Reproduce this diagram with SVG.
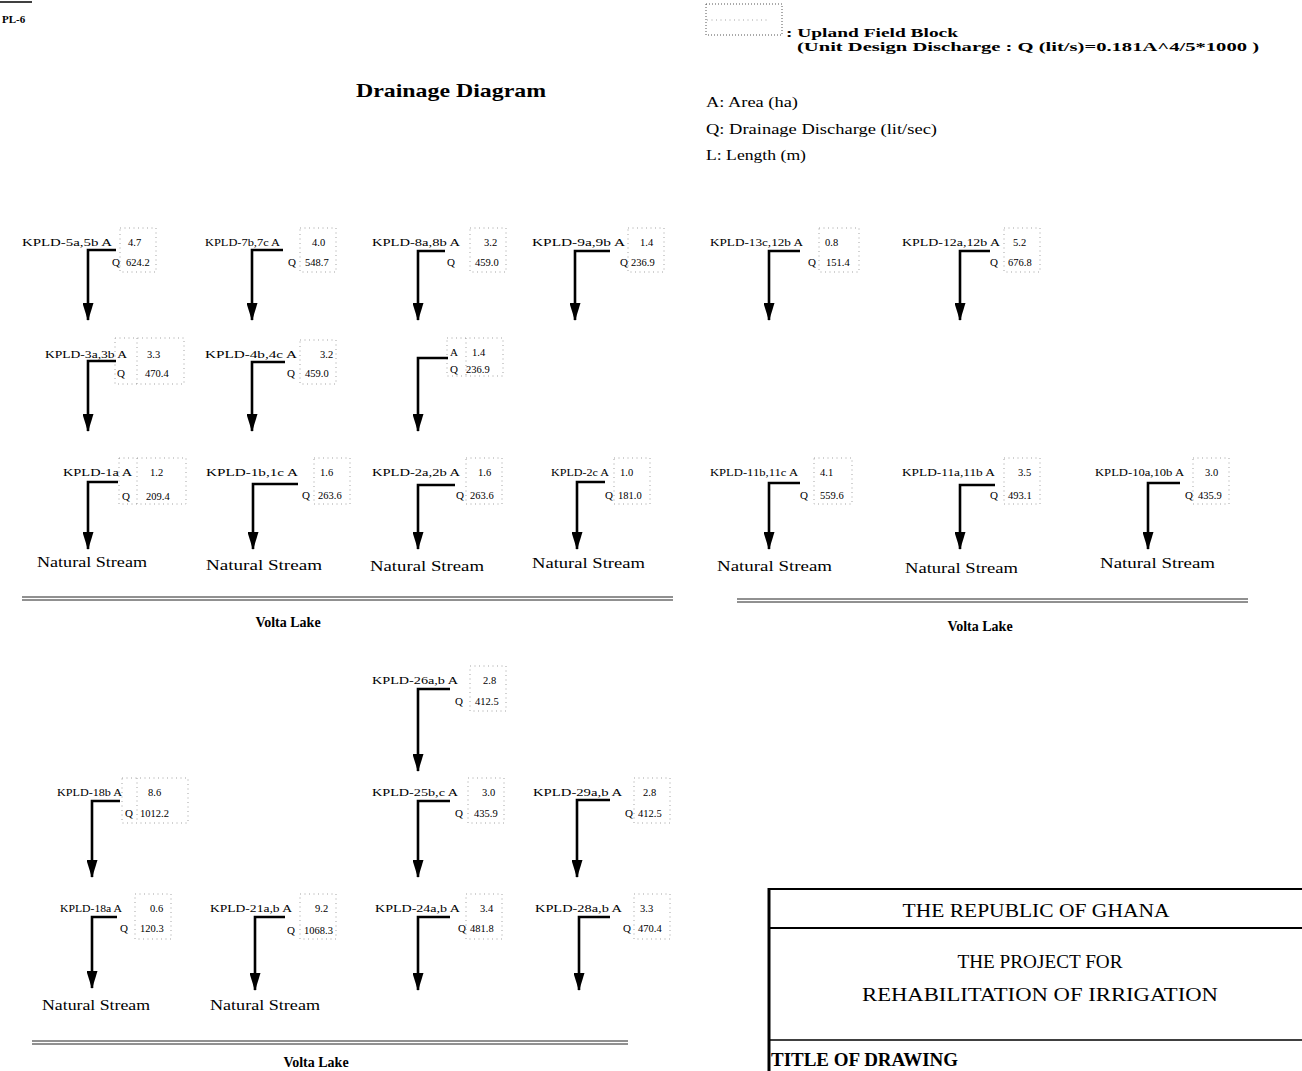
<svg xmlns="http://www.w3.org/2000/svg" width="1302" height="1071" viewBox="0 0 1302 1071">
<defs>
<style>
text{font-family:"Liberation Serif","Times New Roman",serif;fill:#000}
.lbl{font-size:11px}
.val{font-size:10.5px}
.ns{font-size:14px}
.vl{font-size:14px;font-weight:bold}
.leg{font-size:15px}
.tb{font-size:18px}
.conn{fill:none;stroke:#000;stroke-width:2.6;stroke-linejoin:miter}
.box{fill:none;stroke:#999;stroke-width:0.9;stroke-dasharray:1 3.5}
.lake{stroke:#222;stroke-width:1}
</style>
<marker id="ah" viewBox="0 0 18 11" refX="17" refY="5.5" markerWidth="18" markerHeight="11" markerUnits="userSpaceOnUse" orient="auto">
<path d="M0,0 L18,5.5 L0,11 z" fill="#000"/>
</marker>
</defs>
<rect width="1302" height="1071" fill="#fff"/>

<g id="sheet-id">
<line x1="0" y1="2" x2="32" y2="2" stroke="#000" stroke-width="1.5"/>
<text x="2" y="23" style="font-size:11px;font-weight:bold">PL-6</text>
</g>

<g id="title">
<text x="356" y="97" style="font-size:19px;font-weight:bold" textLength="190" lengthAdjust="spacingAndGlyphs">Drainage Diagram</text>
</g>

<g id="legend">
<rect x="706" y="4" width="76" height="31" fill="none" stroke="#555" stroke-width="1" stroke-dasharray="1 2"/>
<line x1="707" y1="20" x2="770" y2="20" class="box"/>
<text x="786" y="37" style="font-size:13px;font-weight:bold" textLength="172" lengthAdjust="spacingAndGlyphs">: Upland Field Block</text>
<text x="797" y="51" style="font-size:13px;font-weight:bold" textLength="462" lengthAdjust="spacingAndGlyphs">(Unit Design Discharge : Q (lit/s)=0.181A^4/5*1000 )</text>
<text x="706" y="107" class="leg" textLength="92" lengthAdjust="spacingAndGlyphs">A: Area (ha)</text>
<text x="706" y="134" class="leg" textLength="231" lengthAdjust="spacingAndGlyphs">Q: Drainage Discharge (lit/sec)</text>
<text x="706" y="160" class="leg" textLength="100" lengthAdjust="spacingAndGlyphs">L: Length (m)</text>
</g>

<!-- Row 1 -->
<g id="n-5a5b"><text class="lbl" x="22" y="246" textLength="90" lengthAdjust="spacingAndGlyphs">KPLD-5a,5b A</text><text class="val" x="128" y="246">4.7</text><text class="lbl" x="112" y="266">Q</text><text class="val" x="126" y="266">624.2</text><rect class="box" x="120" y="228" width="36" height="44"/></g>
<g id="n-7b7c"><text class="lbl" x="205" y="246" textLength="75" lengthAdjust="spacingAndGlyphs">KPLD-7b,7c A</text><text class="val" x="312" y="246">4.0</text><text class="lbl" x="288" y="266">Q</text><text class="val" x="305" y="266">548.7</text><rect class="box" x="300" y="228" width="36" height="44"/></g>
<g id="n-8a8b"><text class="lbl" x="372" y="246" textLength="88" lengthAdjust="spacingAndGlyphs">KPLD-8a,8b A</text><text class="val" x="484" y="246">3.2</text><text class="lbl" x="447" y="266">Q</text><text class="val" x="475" y="266">459.0</text><rect class="box" x="470" y="228" width="36" height="44"/></g>
<g id="n-9a9b"><text class="lbl" x="532" y="246" textLength="93" lengthAdjust="spacingAndGlyphs">KPLD-9a,9b A</text><text class="val" x="640" y="246">1.4</text><text class="lbl" x="620" y="266">Q</text><text class="val" x="631" y="266">236.9</text><rect class="box" x="628" y="228" width="36" height="44"/></g>
<g id="n-13c12b"><text class="lbl" x="710" y="246" textLength="93" lengthAdjust="spacingAndGlyphs">KPLD-13c,12b A</text><text class="val" x="825" y="246">0.8</text><text class="lbl" x="808" y="266">Q</text><text class="val" x="826" y="266">151.4</text><rect class="box" x="819" y="228" width="40" height="44"/></g>
<g id="n-12a12b"><text class="lbl" x="902" y="246" textLength="98" lengthAdjust="spacingAndGlyphs">KPLD-12a,12b A</text><text class="val" x="1013" y="246">5.2</text><text class="lbl" x="990" y="266">Q</text><text class="val" x="1008" y="266">676.8</text><rect class="box" x="1004" y="228" width="36" height="44"/></g>

<!-- Row 2 -->
<g id="n-3a3b"><text class="lbl" x="45" y="358" textLength="82" lengthAdjust="spacingAndGlyphs">KPLD-3a,3b A</text><text class="val" x="147" y="358">3.3</text><text class="lbl" x="117" y="377">Q</text><text class="val" x="145" y="377">470.4</text><rect class="box" x="115" y="338" width="69" height="46"/><line class="box" x1="137" y1="338" x2="137" y2="384"/></g>
<g id="n-4b4c"><text class="lbl" x="205" y="358" textLength="92" lengthAdjust="spacingAndGlyphs">KPLD-4b,4c A</text><text class="val" x="320" y="358">3.2</text><text class="lbl" x="287" y="377">Q</text><text class="val" x="305" y="377">459.0</text><rect class="box" x="300" y="340" width="36" height="44"/></g>
<g id="n-unl"><text class="lbl" x="450" y="356">A</text><text class="val" x="472" y="356">1.4</text><text class="lbl" x="450" y="373">Q</text><text class="val" x="466" y="373">236.9</text><rect class="box" x="447" y="338" width="56" height="38"/><line class="box" x1="466" y1="338" x2="466" y2="376"/></g>

<!-- Row 3 -->
<g id="n-1a"><text class="lbl" x="63" y="476" textLength="69" lengthAdjust="spacingAndGlyphs">KPLD-1a A</text><text class="val" x="150" y="476">1.2</text><text class="lbl" x="122" y="500">Q</text><text class="val" x="146" y="500">209.4</text><rect class="box" x="119" y="458" width="67" height="46"/><line class="box" x1="137" y1="458" x2="137" y2="504"/><text class="ns" x="37" y="567" textLength="110" lengthAdjust="spacingAndGlyphs">Natural Stream</text></g>
<g id="n-1b1c"><text class="lbl" x="206" y="476" textLength="92" lengthAdjust="spacingAndGlyphs">KPLD-1b,1c A</text><text class="val" x="320" y="476">1.6</text><text class="lbl" x="302" y="499">Q</text><text class="val" x="318" y="499">263.6</text><rect class="box" x="314" y="458" width="36" height="46"/><text class="ns" x="206" y="570" textLength="116" lengthAdjust="spacingAndGlyphs">Natural Stream</text></g>
<g id="n-2a2b"><text class="lbl" x="372" y="476" textLength="88" lengthAdjust="spacingAndGlyphs">KPLD-2a,2b A</text><text class="val" x="478" y="476">1.6</text><text class="lbl" x="456" y="499">Q</text><text class="val" x="470" y="499">263.6</text><rect class="box" x="466" y="458" width="36" height="46"/><text class="ns" x="370" y="571" textLength="114" lengthAdjust="spacingAndGlyphs">Natural Stream</text></g>
<g id="n-2c"><text class="lbl" x="551" y="476" textLength="58" lengthAdjust="spacingAndGlyphs">KPLD-2c A</text><text class="val" x="620" y="476">1.0</text><text class="lbl" x="605" y="499">Q</text><text class="val" x="618" y="499">181.0</text><rect class="box" x="614" y="458" width="36" height="46"/><text class="ns" x="532" y="568" textLength="113" lengthAdjust="spacingAndGlyphs">Natural Stream</text></g>
<g id="n-11b11c"><text class="lbl" x="710" y="476" textLength="88" lengthAdjust="spacingAndGlyphs">KPLD-11b,11c A</text><text class="val" x="820" y="476">4.1</text><text class="lbl" x="800" y="499">Q</text><text class="val" x="820" y="499">559.6</text><rect class="box" x="814" y="458" width="38" height="46"/><text class="ns" x="717" y="571" textLength="115" lengthAdjust="spacingAndGlyphs">Natural Stream</text></g>
<g id="n-11a11b"><text class="lbl" x="902" y="476" textLength="93" lengthAdjust="spacingAndGlyphs">KPLD-11a,11b A</text><text class="val" x="1018" y="476">3.5</text><text class="lbl" x="990" y="499">Q</text><text class="val" x="1008" y="499">493.1</text><rect class="box" x="1004" y="458" width="36" height="46"/><text class="ns" x="905" y="573" textLength="113" lengthAdjust="spacingAndGlyphs">Natural Stream</text></g>
<g id="n-10a10b"><text class="lbl" x="1095" y="476" textLength="89" lengthAdjust="spacingAndGlyphs">KPLD-10a,10b A</text><text class="val" x="1205" y="476">3.0</text><text class="lbl" x="1185" y="499">Q</text><text class="val" x="1198" y="499">435.9</text><rect class="box" x="1193" y="458" width="36" height="46"/><text class="ns" x="1100" y="568" textLength="115" lengthAdjust="spacingAndGlyphs">Natural Stream</text></g>

<!-- Bottom section -->
<g id="n-26ab"><text class="lbl" x="372" y="684" textLength="86" lengthAdjust="spacingAndGlyphs">KPLD-26a,b A</text><text class="val" x="483" y="684">2.8</text><text class="lbl" x="455" y="705">Q</text><text class="val" x="475" y="705">412.5</text><rect class="box" x="470" y="666" width="36" height="45"/></g>
<g id="n-18b"><text class="lbl" x="57" y="796" textLength="65" lengthAdjust="spacingAndGlyphs">KPLD-18b A</text><text class="val" x="148" y="796">8.6</text><text class="lbl" x="125" y="817">Q</text><text class="val" x="140" y="817">1012.2</text><rect class="box" x="122" y="778" width="66" height="45"/><line class="box" x1="137" y1="778" x2="137" y2="823"/></g>
<g id="n-25bc"><text class="lbl" x="372" y="796" textLength="86" lengthAdjust="spacingAndGlyphs">KPLD-25b,c A</text><text class="val" x="482" y="796">3.0</text><text class="lbl" x="455" y="817">Q</text><text class="val" x="474" y="817">435.9</text><rect class="box" x="468" y="778" width="36" height="45"/></g>
<g id="n-29ab"><text class="lbl" x="533" y="796" textLength="89" lengthAdjust="spacingAndGlyphs">KPLD-29a,b A</text><text class="val" x="643" y="796">2.8</text><text class="lbl" x="625" y="817">Q</text><text class="val" x="638" y="817">412.5</text><rect class="box" x="634" y="778" width="36" height="45"/></g>
<g id="n-18a"><text class="lbl" x="60" y="912" textLength="62" lengthAdjust="spacingAndGlyphs">KPLD-18a A</text><text class="val" x="150" y="912">0.6</text><text class="lbl" x="120" y="932">Q</text><text class="val" x="140" y="932">120.3</text><rect class="box" x="135" y="894" width="36" height="45"/><text class="ns" x="42" y="1010" textLength="108" lengthAdjust="spacingAndGlyphs">Natural Stream</text></g>
<g id="n-21ab"><text class="lbl" x="210" y="912" textLength="82" lengthAdjust="spacingAndGlyphs">KPLD-21a,b A</text><text class="val" x="315" y="912">9.2</text><text class="lbl" x="287" y="934">Q</text><text class="val" x="304" y="934">1068.3</text><rect class="box" x="300" y="894" width="36" height="45"/><text class="ns" x="210" y="1010" textLength="110" lengthAdjust="spacingAndGlyphs">Natural Stream</text></g>
<g id="n-24ab"><text class="lbl" x="375" y="912" textLength="85" lengthAdjust="spacingAndGlyphs">KPLD-24a,b A</text><text class="val" x="480" y="912">3.4</text><text class="lbl" x="458" y="932">Q</text><text class="val" x="470" y="932">481.8</text><rect class="box" x="466" y="894" width="36" height="45"/></g>
<g id="n-28ab"><text class="lbl" x="535" y="912" textLength="87" lengthAdjust="spacingAndGlyphs">KPLD-28a,b A</text><text class="val" x="640" y="912">3.3</text><text class="lbl" x="623" y="932">Q</text><text class="val" x="638" y="932">470.4</text><rect class="box" x="634" y="894" width="36" height="45"/></g>

<g id="connectors">
<path class="conn" d="M116,250 H88 V320" marker-end="url(#ah)"/>
<path class="conn" d="M283,250 H252 V320" marker-end="url(#ah)"/>
<path class="conn" d="M445,251 H418 V320" marker-end="url(#ah)"/>
<path class="conn" d="M610,251 H575 V320" marker-end="url(#ah)"/>
<path class="conn" d="M800,251 H769 V320" marker-end="url(#ah)"/>
<path class="conn" d="M990,251 H960 V320" marker-end="url(#ah)"/>

<path class="conn" d="M116,361 H88 V431" marker-end="url(#ah)"/>
<path class="conn" d="M285,362 H252 V431" marker-end="url(#ah)"/>
<path class="conn" d="M448,358 H418 V431" marker-end="url(#ah)"/>

<path class="conn" d="M118,482 H88 V549" marker-end="url(#ah)"/>
<path class="conn" d="M298,484 H253 V549" marker-end="url(#ah)"/>
<path class="conn" d="M455,485 H418 V549" marker-end="url(#ah)"/>
<path class="conn" d="M605,482 H577 V549" marker-end="url(#ah)"/>
<path class="conn" d="M800,483 H769 V549" marker-end="url(#ah)"/>
<path class="conn" d="M995,485 H960 V549" marker-end="url(#ah)"/>
<path class="conn" d="M1180,483 H1148 V549" marker-end="url(#ah)"/>

<path class="conn" d="M450,689 H418 V771" marker-end="url(#ah)"/>
<path class="conn" d="M120,801 H92 V877" marker-end="url(#ah)"/>
<path class="conn" d="M450,801 H418 V877" marker-end="url(#ah)"/>
<path class="conn" d="M610,800 H577 V877" marker-end="url(#ah)"/>
<path class="conn" d="M117,917 H92 V988" marker-end="url(#ah)"/>
<path class="conn" d="M285,917 H255 V990" marker-end="url(#ah)"/>
<path class="conn" d="M450,917 H418 V990" marker-end="url(#ah)"/>
<path class="conn" d="M610,917 H579 V990" marker-end="url(#ah)"/>
</g>

<g id="volta-lake-1">
<line class="lake" x1="22" y1="597" x2="673" y2="597"/>
<line class="lake" x1="22" y1="600" x2="673" y2="600"/>
<text class="vl" x="288" y="627" text-anchor="middle">Volta Lake</text>
</g>
<g id="volta-lake-2">
<line class="lake" x1="737" y1="599" x2="1248" y2="599"/>
<line class="lake" x1="737" y1="602" x2="1248" y2="602"/>
<text class="vl" x="980" y="631" text-anchor="middle">Volta Lake</text>
</g>
<g id="volta-lake-3">
<line class="lake" x1="32" y1="1041" x2="628" y2="1041"/>
<line class="lake" x1="32" y1="1044" x2="628" y2="1044"/>
<text class="vl" x="316" y="1067" text-anchor="middle">Volta Lake</text>
</g>

<g id="title-block">
<line x1="769" y1="888" x2="769" y2="1071" stroke="#000" stroke-width="3"/>
<line x1="768" y1="889" x2="1302" y2="889" stroke="#000" stroke-width="2"/>
<line x1="768" y1="928" x2="1302" y2="928" stroke="#000" stroke-width="2"/>
<line x1="768" y1="1040" x2="1302" y2="1040" stroke="#000" stroke-width="1.5"/>
<text class="tb" x="1036" y="917" text-anchor="middle" textLength="267" lengthAdjust="spacingAndGlyphs">THE REPUBLIC OF GHANA</text>
<text class="tb" x="1040" y="968" text-anchor="middle" textLength="165" lengthAdjust="spacingAndGlyphs">THE PROJECT FOR</text>
<text class="tb" x="1040" y="1001" text-anchor="middle" textLength="356" lengthAdjust="spacingAndGlyphs">REHABILITATION OF IRRIGATION</text>
<text class="tb" x="771" y="1066" style="font-weight:bold" textLength="187" lengthAdjust="spacingAndGlyphs">TITLE OF DRAWING</text>
</g>
</svg>
